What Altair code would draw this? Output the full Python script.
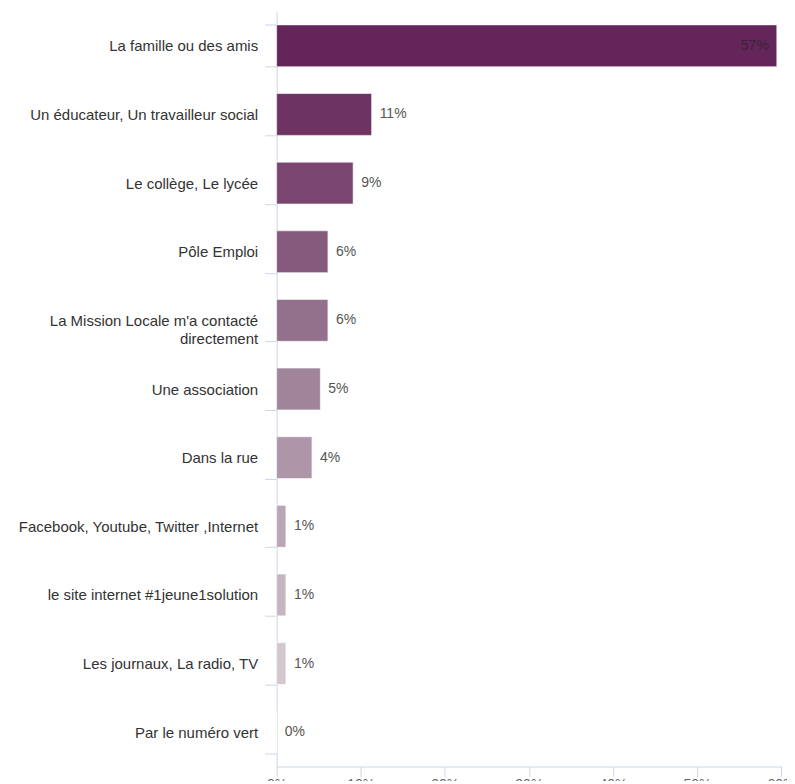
import altair as alt
import pandas as pd

categories = [
    "La famille ou des amis",
    "Un éducateur, Un travailleur social",
    "Le collège, Le lycée",
    "Pôle Emploi",
    "La Mission Locale m'a contacté|directement",
    "Une association",
    "Dans la rue",
    "Facebook, Youtube, Twitter ,Internet",
    "le site internet #1jeune1solution",
    "Les journaux, La radio, TV",
    "Par le numéro vert",
]
values = [59.5, 11.3, 9.1, 6.1, 6.1, 5.2, 4.2, 1.1, 1.1, 1.1, 0.0]
labels = ["57%", "11%", "9%", "6%", "6%", "5%", "4%", "1%", "1%", "1%", "0%"]
colors = ["#63255a", "#6d3463", "#7a466f", "#865a7d", "#93718c",
          "#a0849a", "#ae95a8", "#baa5b5", "#c5b5c1", "#d3c8d0", "#dcd3da"]
inside = [True] + [False] * 10

df = pd.DataFrame({"cat": categories, "value": values, "label": labels,
                   "color": colors, "inside": inside})

FONT = "Liberation Sans"
AXIS_COLOR = "#ccd6eb"

y = alt.Y("cat:N", sort=categories, title=None,
          scale=alt.Scale(paddingInner=0.39, paddingOuter=0.195),
          axis=alt.Axis(labelExpr="split(datum.label, '|')", labelFont=FONT,
                        labelFontSize=15, labelColor="#333333",
                        domainColor=AXIS_COLOR, tickColor=AXIS_COLOR,
                        tickSize=12, labelPadding=7, tickBand="extent",
                        labelLimit=400, labelLineHeight=18))
x = alt.X("value:Q", title=None,
          scale=alt.Scale(domain=[0, 60], nice=False),
          axis=alt.Axis(values=[0, 10, 20, 30, 40, 50, 60], grid=False,
                        labelExpr="datum.value + '%'", labelFont=FONT,
                        labelFontSize=14, labelColor="#666666",
                        labelFlush=False,
                        domainColor=AXIS_COLOR, tickColor=AXIS_COLOR,
                        tickSize=10, labelPadding=1))

base = alt.Chart(df)
bars = base.mark_bar(stroke="#ffffff", strokeOpacity=0.6, strokeWidth=1).encode(
    x=x, y=y, color=alt.Color("color:N", scale=None))

outside_text = base.transform_filter("!datum.inside").mark_text(
    align="left", baseline="middle", dx=8, font=FONT, fontSize=14,
    color="#555555").encode(x="value:Q", y=alt.Y("cat:N", sort=categories),
                             text="label:N")
inside_text = base.transform_filter("datum.inside").mark_text(
    align="right", baseline="middle", dx=-8, font=FONT, fontSize=14,
    color="#3e2239").encode(x="value:Q", y=alt.Y("cat:N", sort=categories),
                             text="label:N")

chart = alt.layer(bars, outside_text, inside_text).properties(
    width=505, height=756,
    autosize=alt.AutoSizeParams(type="none"),
    padding={"left": 269, "top": 3, "right": 6, "bottom": 14},
).configure_view(stroke=None)

chart.save("out.html", embed_options={"renderer": "svg", "actions": False})
